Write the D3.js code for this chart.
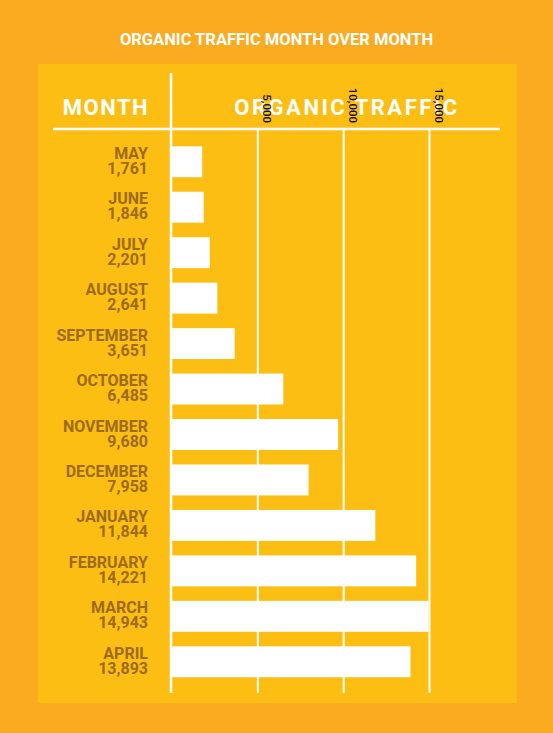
<!DOCTYPE html>
<html>
<head>
<meta charset="utf-8">
<script src="https://cdn.jsdelivr.net/npm/d3@7"></script>
<style>
  body { margin: 0; background: #faab1f; }
  text { font-family: Roboto, "Open Sans", sans-serif; }
</style>
</head>
<body>
<script>
// data
var months = ["MAY", "JUNE", "JULY", "AUGUST", "SEPTEMBER", "OCTOBER",
              "NOVEMBER", "DECEMBER", "JANUARY", "FEBRUARY", "MARCH", "APRIL"];
var traffic = [1761, 1846, 2201, 2641, 3651, 6485, 9680, 7958, 11844, 14221, 14943, 13893];
var tickValues = [5000, 10000, 15000];

var data = months.map(function(m, i) { return {month: m, value: traffic[i]}; });

var W = 553, H = 733;
var outer = "#faab1f", panel = "#fdbe14", brown = "#9c6b1c";

var svg = d3.select("body")
  .append("svg")
    .attr("width", W)
    .attr("height", H);

svg.append("rect")
  .attr("width", W).attr("height", H)
  .attr("fill", outer);

svg.append("rect")
  .attr("x", 38).attr("y", 64)
  .attr("width", 479).attr("height", 639)
  .attr("fill", panel);

svg.append("text")
  .attr("x", 276.5).attr("y", 45)
  .attr("text-anchor", "middle")
  .attr("font-size", "16.5px")
  .attr("font-weight", 700)
  .attr("fill", "white")
  .text("ORGANIC TRAFFIC MONTH OVER MONTH");

var x = d3.scaleLinear()
  .domain([0, 15000])
  .range([172, 429.5]);

var y = d3.scaleBand()
  .domain(months)
  .range([139, 684.5])
  .paddingInner(0.32)
  .paddingOuter(0.16);

// header
svg.append("text")
  .attr("x", 106).attr("y", 115)
  .attr("text-anchor", "middle")
  .attr("font-size", "22px")
  .attr("font-weight", 700)
  .attr("letter-spacing", "1.5px")
  .attr("fill", "white")
  .text("MONTH");

svg.append("text")
  .attr("x", 347).attr("y", 115)
  .attr("text-anchor", "middle")
  .attr("font-size", "22px")
  .attr("font-weight", 700)
  .attr("letter-spacing", "2.5px")
  .attr("fill", "white")
  .text("ORGANIC TRAFFIC");

svg.append("line")
  .attr("x1", 53).attr("x2", 500)
  .attr("y1", 129).attr("y2", 129)
  .attr("stroke", "white")
  .attr("stroke-width", 2.5);

// gridlines
svg.selectAll(".grid")
  .data(tickValues)
  .enter().append("line")
    .attr("class", "grid")
    .attr("x1", function(d) { return x(d); })
    .attr("x2", function(d) { return x(d); })
    .attr("y1", 129).attr("y2", 693)
    .attr("stroke", "white")
    .attr("stroke-width", 2);

svg.selectAll(".tick-label")
  .data(tickValues)
  .enter().append("text")
    .attr("class", "tick-label")
    .attr("transform", function(d) { return "translate(" + (x(d) + 5) + ",123) rotate(90)"; })
    .attr("text-anchor", "end")
    .attr("font-size", "11.5px")
    .attr("font-weight", 500)
    .attr("fill", "#111")
    .text(function(d) { return d3.format(",")(d); });

// zero axis
svg.append("line")
  .attr("x1", 171).attr("x2", 171)
  .attr("y1", 73).attr("y2", 693)
  .attr("stroke", "white")
  .attr("stroke-width", 2.5);

// bars
svg.selectAll(".bar")
  .data(data)
  .enter().append("rect")
    .attr("class", "bar")
    .attr("x", x(0))
    .attr("y", function(d) { return y(d.month); })
    .attr("width", function(d) { return x(d.value) - x(0); })
    .attr("height", y.bandwidth())
    .attr("fill", "white");

// row labels: month name over its value
var labels = svg.selectAll(".row-label")
  .data(data)
  .enter().append("text")
    .attr("class", "row-label")
    .attr("text-anchor", "end")
    .attr("font-size", "16px")
    .attr("font-weight", 700)
    .attr("fill", brown);

labels.append("tspan")
  .attr("x", 148)
  .attr("y", function(d) { return y(d.month) + 12.5; })
  .text(function(d) { return d.month; });

labels.append("tspan")
  .attr("x", 148)
  .attr("y", function(d) { return y(d.month) + 27.5; })
  .text(function(d) { return d3.format(",")(d.value); });
</script>
</body>
</html>
